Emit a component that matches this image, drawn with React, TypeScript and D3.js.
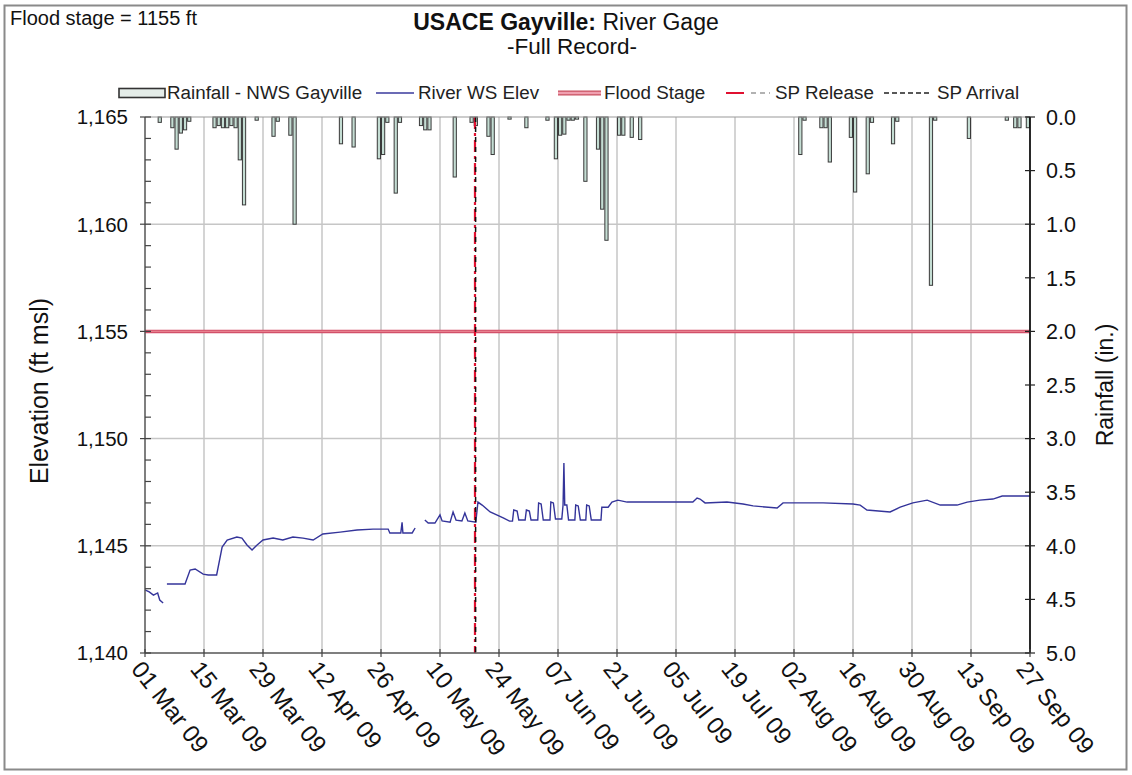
import React from 'react';
import * as d3 from 'd3';

// ---------- data ----------
const xTickDays = [0, 14, 28, 42, 56, 70, 84, 98, 112, 126, 140, 154, 168, 182, 196, 210];
const xTickLabels = ['01 Mar 09', '15 Mar 09', '29 Mar 09', '12 Apr 09', '26 Apr 09', '10 May 09', '24 May 09', '07 Jun 09', '21 Jun 09', '05 Jul 09', '19 Jul 09', '02 Aug 09', '16 Aug 09', '30 Aug 09', '13 Sep 09', '27 Sep 09'];
const elevTicks = [1140, 1145, 1150, 1155, 1160, 1165];
const rainTicks = [0, 0.5, 1, 1.5, 2, 2.5, 3, 3.5, 4, 4.5, 5];

// rainfall: days since 01 Mar 09, inches
const rainDays = [3, 6, 7, 8, 9, 10, 16, 17, 18, 19, 20, 21, 22, 23, 26, 30, 31, 34, 35, 46, 49, 55, 56, 57, 59, 60, 65, 66, 67, 73, 77, 78, 81, 82, 86, 90, 95, 97, 98, 99, 100, 101, 102, 104, 107, 108, 109, 112, 113, 115, 117, 155, 156, 160, 161, 162, 167, 168, 171, 172, 177, 178, 186, 187, 195, 204, 206, 207, 209];
const rainInches = [0.05, 0.1, 0.3, 0.15, 0.12, 0.04, 0.1, 0.08, 0.1, 0.1, 0.08, 0.1, 0.4, 0.82, 0.03, 0.18, 0.04, 0.17, 1.0, 0.25, 0.28, 0.39, 0.35, 0.05, 0.71, 0.05, 0.08, 0.12, 0.12, 0.56, 0.05, 0.08, 0.18, 0.35, 0.02, 0.1, 0.03, 0.39, 0.17, 0.16, 0.03, 0.03, 0.02, 0.6, 0.3, 0.86, 1.15, 0.17, 0.17, 0.19, 0.21, 0.35, 0.03, 0.1, 0.1, 0.42, 0.19, 0.7, 0.53, 0.05, 0.25, 0.04, 1.57, 0.03, 0.2, 0.03, 0.1, 0.1, 0.1];

// river water surface elevation (null = gap in record)
const riverDays = [0, 1, 2, 3, 3.5, 4.3, 4.8, 5.2, 9.5, 10.7, 11.9, 13.8, 15, 17, 18.3, 19.5, 21.8, 23, 24.2, 25.4, 26.6, 28, 30.4, 32.7, 35.1, 37.5, 39.9, 42.2, 46.3, 50.3, 54.1, 57.7, 58.1, 60.7, 61, 61.2, 63.4, 64.1, 65, 66.4, 67.2, 68.8, 70, 70.5, 72.4, 73.1, 73.8, 75.2, 75.9, 76.6, 78.5, 79, 80, 81.9, 85, 86.5, 87.2, 87.5, 88.3, 88.7, 90.2, 90.5, 91.2, 91.6, 93.2, 93.4, 94.0, 94.5, 96.1, 96.3, 96.9, 97.4, 98.9, 99.2, 99.4, 99.6, 100.1, 100.5, 102.0, 102.2, 102.8, 103.3, 104.6, 104.8, 105.4, 105.9, 108.2, 108.4, 109.9, 110.8, 112.2, 114.4, 122.2, 130, 131, 131.7, 132.9, 138.1, 141.9, 144.3, 150, 151.4, 153, 160.9, 168, 169.7, 171.3, 176.8, 179.2, 182.2, 185.6, 188.7, 192.7, 195.1, 198.1, 201.2, 203.4, 210];
const riverElev = [1142.94, 1142.85, 1142.7, 1142.8, 1142.47, 1142.33, null, 1143.22, 1143.22, 1143.87, 1143.92, 1143.68, 1143.64, 1143.64, 1144.94, 1145.27, 1145.41, 1145.36, 1145.04, 1144.8, 1145.04, 1145.27, 1145.36, 1145.27, 1145.41, 1145.36, 1145.27, 1145.55, 1145.64, 1145.74, 1145.78, 1145.78, 1145.6, 1145.6, 1146.1, 1145.6, 1145.6, 1145.83, null, 1146.2, 1146.06, 1146.06, 1146.44, 1146.16, 1146.1, 1146.58, 1146.2, 1146.16, 1146.53, 1146.16, 1146.1, 1147.04, 1146.9, 1146.58, 1146.3, 1146.15, 1146.15, 1146.67, 1146.62, 1146.2, 1146.2, 1146.67, 1146.62, 1146.2, 1146.2, 1147.0, 1146.95, 1146.2, 1146.2, 1147.04, 1147.0, 1146.25, 1146.25, 1146.9, 1148.86, 1146.9, 1146.9, 1146.2, 1146.2, 1146.9, 1146.86, 1146.2, 1146.2, 1146.9, 1146.86, 1146.2, 1146.2, 1146.8, 1146.8, 1147.04, 1147.13, 1147.04, 1147.04, 1147.04, 1147.23, 1147.18, 1147.0, 1147.04, 1146.95, 1146.86, 1146.76, 1147.0, 1147.0, 1147.0, 1146.95, 1146.9, 1146.67, 1146.58, 1146.8, 1147.0, 1147.13, 1146.9, 1146.9, 1147.04, 1147.13, 1147.18, 1147.32, 1147.32];

const floodStage = 1155;
const spReleaseDay = 78.3;
const spArrivalDay = 78.45;

const legendItems = ['Rainfall - NWS Gayville', 'River WS Elev', 'Flood Stage', 'SP Release', 'SP Arrival'];

// ---------- layout ----------
const W = 1132, H = 775;
const L = 145, R = 1030, T = 117, B = 653;
const FONT = '"Liberation Sans", Arial, sans-serif';

export default function App() {
  const x = d3.scaleLinear().domain([0, 210]).range([L, R]);
  const yE = d3.scaleLinear().domain([1140, 1165]).range([B, T]);
  const yR = d3.scaleLinear().domain([0, 5]).range([T, B]);

  const riverPts = riverDays.map((d, i) => ({ d, v: riverElev[i] }));
  const line = d3.line<{ d: number; v: number | null }>()
    .defined(p => p.v !== null)
    .x(p => x(p.d))
    .y(p => yE(p.v as number));

  const minorElev = d3.range(1140, 1166, 1);

  return (
    <svg width={W} height={H} style={{ position: 'absolute', left: 0, top: 0, background: '#fff' }} fontFamily={FONT}>
      <rect x={0} y={0} width={W} height={H} fill="#fff" />
      <rect x={4.5} y={5.5} width={1122} height={764} fill="none" stroke="#8a8a8a" strokeWidth={2} />

      <text x={10} y={25} fontSize={20} fill="#111">Flood stage = 1155 ft</text>
      <text x={566} y={30} fontSize={23} fontWeight="bold" textAnchor="middle" fill="#111">USACE Gayville: <tspan fontWeight="normal">River Gage</tspan></text>
      <text x={572} y={54} fontSize={22.5} textAnchor="middle" fill="#111">-Full Record-</text>

      {/* legend */}
      <g fontSize={18.8} fill="#222">
        <rect x={119} y={88.5} width={46} height={9} fill="#e4ece8" stroke="#333" strokeWidth={1.6} />
        <text x={167} y={99}>{legendItems[0]}</text>
        <line x1={376} x2={414} y1={93} y2={93} stroke="#3a3a9c" strokeWidth={1.6} />
        <text x={418} y={99}>{legendItems[1]}</text>
        <line x1={558} x2={601} y1={93} y2={93} stroke="#c85060" strokeWidth={5} />
        <line x1={558} x2={601} y1={93} y2={93} stroke="#f0a0b0" strokeWidth={2.5} />
        <text x={604} y={99}>{legendItems[2]}</text>
        <line x1={726} x2={744} y1={93} y2={93} stroke="#e01030" strokeWidth={2} />
        <line x1={751} x2={770} y1={93} y2={93} stroke="#999" strokeWidth={1.5} strokeDasharray="5,4" />
        <text x={775} y={99}>{legendItems[3]}</text>
        <line x1={884} x2={932} y1={93} y2={93} stroke="#222" strokeWidth={1.5} strokeDasharray="5,3" />
        <text x={937} y={99}>{legendItems[4]}</text>
      </g>

      {/* grid */}
      <g stroke="#c6c6c6" strokeWidth={1.5}>
        {elevTicks.filter(t => t > 1140 && t < 1165).map(t => (
          <line key={'h' + t} x1={L} x2={R} y1={yE(t)} y2={yE(t)} />
        ))}
        {xTickDays.filter(d => d > 0 && d < 210).map(d => (
          <line key={'v' + d} x1={x(d)} x2={x(d)} y1={T} y2={B} />
        ))}
      </g>

      {/* rainfall bars */}
      <g>
        {rainDays.map((d, i) => {
          const x0 = x(d), x1 = x(d + 1);
          return (
            <rect key={'r' + i} x={x0 + 0.5} y={yR(0)} width={Math.max(1, x1 - x0 - 1)} height={yR(rainInches[i]) - yR(0)}
              fill="#c4ddd3" stroke="#3a3a3a" strokeWidth={1} />
          );
        })}
      </g>

      {/* flood stage */}
      <line x1={L} x2={R} y1={yE(floodStage)} y2={yE(floodStage)} stroke="#d2506a" strokeWidth={3.5} />
      <line x1={L} x2={R} y1={yE(floodStage)} y2={yE(floodStage)} stroke="#e8808e" strokeWidth={1.2} />

      {/* river */}
      <path d={line(riverPts) || ''} fill="none" stroke="#34349a" strokeWidth={1.4} />

      {/* SP release / arrival */}
      <line x1={x(spReleaseDay)} x2={x(spReleaseDay)} y1={T} y2={B} stroke="#e01030" strokeWidth={2.2} strokeDasharray="12,4,3,4" />
      <line x1={x(spArrivalDay)} x2={x(spArrivalDay)} y1={T} y2={B} stroke="#111" strokeWidth={1.5} strokeDasharray="5,5" />

      {/* frame */}
      <line x1={L} x2={R} y1={T} y2={T} stroke="#9a9a9a" strokeWidth={1.2} />
      <line x1={L} x2={R} y1={B} y2={B} stroke="#555" strokeWidth={1.5} />
      <line x1={L} x2={L} y1={T} y2={B} stroke="#555" strokeWidth={1.5} />
      <line x1={R} x2={R} y1={T} y2={B} stroke="#111" strokeWidth={1.8} />

      {/* left axis */}
      <g stroke="#444" strokeWidth={1.2}>
        {minorElev.map(t => (
          <line key={'lt' + t} x1={t % 5 === 0 ? L - 5 : L} x2={L + 6} y1={yE(t)} y2={yE(t)} />
        ))}
      </g>
      <g fontSize={20.5} fill="#111" textAnchor="end">
        {elevTicks.map(t => (
          <text key={'ll' + t} x={128} y={yE(t)} dy="0.36em">{d3.format(',')(t)}</text>
        ))}
      </g>
      <text transform={`translate(48,${(T + B) / 2 + 6}) rotate(-90)`} fontSize={25} textAnchor="middle" fill="#111">Elevation (ft msl)</text>

      {/* right axis */}
      <g stroke="#222" strokeWidth={1.2}>
        {rainTicks.map(t => (
          <line key={'rt' + t} x1={R - 5} x2={R + 5} y1={yR(t)} y2={yR(t)} />
        ))}
      </g>
      <g fontSize={21.5} fill="#111" textAnchor="start">
        {rainTicks.map(t => (
          <text key={'rl' + t} x={1046} y={yR(t)} dy="0.36em">{d3.format('.1f')(t)}</text>
        ))}
      </g>
      <text transform={`translate(1113,${(T + B) / 2}) rotate(-90)`} fontSize={23} textAnchor="middle" fill="#111">Rainfall (in.)</text>

      {/* bottom axis */}
      <g stroke="#444" strokeWidth={1.2}>
        {xTickDays.map(d => (
          <line key={'bt' + d} x1={x(d)} x2={x(d)} y1={B - 4} y2={B + 4} />
        ))}
      </g>
      <g fontSize={24} fill="#111">
        {xTickDays.map((d, i) => (
          <text key={'bl' + d} transform={`translate(${x(d) - 9},${B + 12}) rotate(52)`} dy="0.3em">{xTickLabels[i]}</text>
        ))}
      </g>
    </svg>
  );
}
